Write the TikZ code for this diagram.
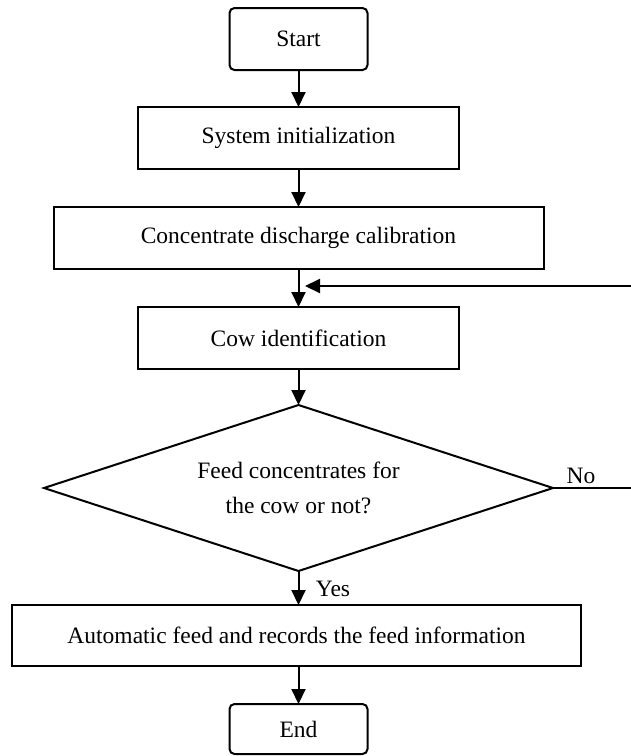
\documentclass[tikz,border=0pt]{standalone}
\usepackage{fontspec}
\setmainfont{Liberation Serif}
\usetikzlibrary{shapes.geometric,arrows.meta}
\begin{document}
\begin{tikzpicture}[x=1pt,y=-1pt,
  every node/.style={font=\fontsize{23.5}{28}\selectfont},
  base/.style={draw=black,line width=2pt,inner sep=0pt,outer sep=0pt},
  term/.style={base,rectangle,rounded corners=5pt,minimum width=138pt,minimum height=62pt},
  proc/.style={base,rectangle,minimum height=62pt},
  decision/.style={base,diamond,shape aspect=3.066,minimum width=509pt,minimum height=166pt,align=center,
    font=\fontsize{23.5}{35}\selectfont},
  arr/.style={line width=2pt,-{Triangle[length=15pt,width=14pt]}},
  lbl/.style={inner sep=0pt}]
\useasboundingbox (0,0) rectangle (631,756);
\node[term] (start) at (298.5,39) {Start};
\node[proc,minimum width=321pt] (init) at (298.5,138) {System initialization};
\node[proc,minimum width=490pt] (calib) at (298.5,238) {Concentrate discharge calibration};
\node[proc,minimum width=321pt] (cow) at (298.5,338) {Cow identification};
\node[decision] (dec) at (298.5,488) {Feed concentrates for\\the cow or not?};
\node[proc,minimum width=569pt,minimum height=61pt] (feed) at (296.5,635.5) {Automatic feed and records the feed information};
\node[term,minimum height=50pt] (end) at (298.5,729) {End};
\coordinate (fbin) at (631,286);
\coordinate (fbtip) at (305,286);
\coordinate (noout) at (631,488);
\draw[arr] (start.south) -- (init.north);
\draw[arr] (init.south) -- (calib.north);
\draw[arr] (calib.south) -- (cow.north);
\draw[arr] (fbin) -- (fbtip);
\draw[arr] (cow.south) -- (dec.north);
\draw[arr] (dec.south) -- (dec.south |- feed.north);
\draw[arr] (end.north |- feed.south) -- (end.north);
\draw[line width=2pt] (dec.east) -- (noout);
\node[lbl] (no) at (581,476) {No};
\node[lbl] (yes) at (333,589) {Yes};
\end{tikzpicture}
\end{document}
